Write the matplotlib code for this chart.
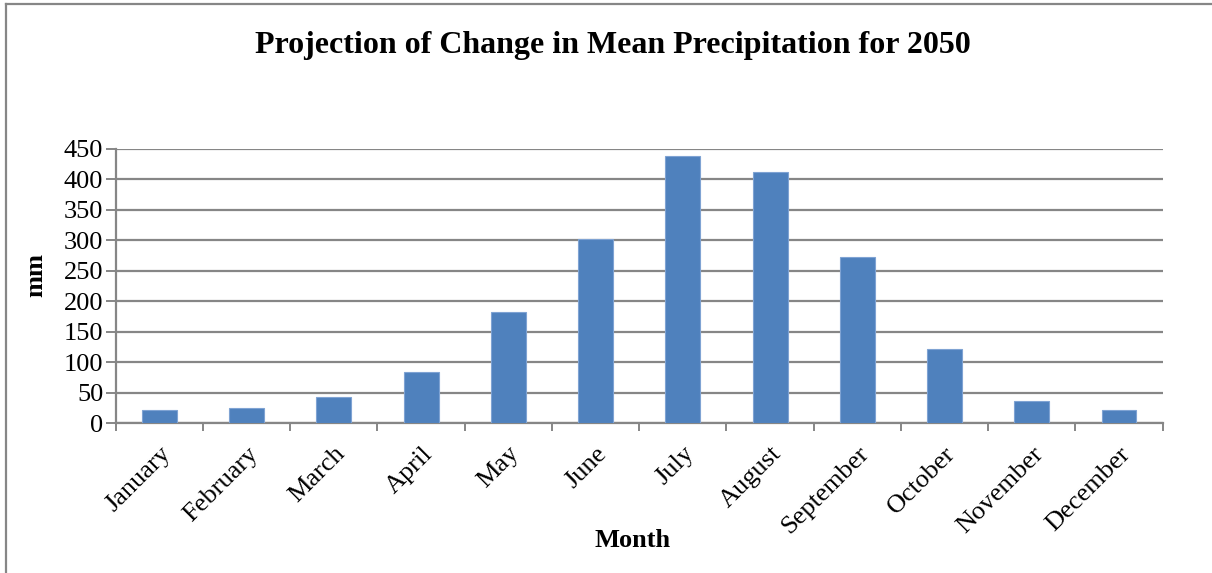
import numpy as np
import matplotlib.pyplot as plt
from matplotlib.lines import Line2D

months = ['January', 'February', 'March', 'April', 'May', 'June', 'July',
          'August', 'September', 'October', 'November', 'December']
precip = [21, 25, 43, 84, 182, 302, 438, 413, 272, 122, 36, 21]
yticks = [0, 50, 100, 150, 200, 250, 300, 350, 400, 450]

plt.rcParams['font.family'] = ['Liberation Serif', 'DejaVu Serif']
grid_col = '#868686'

fig = plt.figure(figsize=(12.12, 5.73), dpi=100)
ax = fig.add_axes([0.0955, 0.2613, 0.8638, 0.4787])

x = np.arange(len(months))
ax.bar(x, precip, width=0.4, color='#4F81BD', edgecolor='#7FA3D3',
       linewidth=0.8, zorder=3)

ax.set_xlim(-0.5, len(months) - 0.5)
ax.set_ylim(0, 450)
ax.set_yticks(yticks)
ax.set_yticklabels([str(v) for v in yticks], fontsize=19)
ax.yaxis.grid(True, color=grid_col, linewidth=1.6, zorder=0)
ax.set_axisbelow(True)

ax.set_xticks(x)
ax.set_xticklabels(months, rotation=45, ha='right', rotation_mode='anchor',
                   fontsize=19)
ax.tick_params(axis='x', which='major', length=0, pad=14)
ax.set_xticks(np.arange(-0.5, len(months)), minor=True)
ax.tick_params(axis='x', which='minor', length=6, width=1.4, color=grid_col)
ax.tick_params(axis='y', length=7, width=1.4, color=grid_col, pad=2)

for side in ['top', 'right']:
    ax.spines[side].set_visible(False)
for side in ['left', 'bottom']:
    ax.spines[side].set_color(grid_col)
    ax.spines[side].set_linewidth(1.6)

ax.set_ylabel('mm', fontsize=19, fontweight='bold', va='center')
ax.yaxis.set_label_coords(-0.076, 0.54)
ax.set_xlabel('Month', fontsize=19, fontweight='bold', va='center')
ax.xaxis.set_label_coords(0.494, -0.429)

fig.text(0.506, 0.92, 'Projection of Change in Mean Precipitation for 2050',
         ha='center', va='center', fontsize=23, fontweight='bold')

# chart frame (only left and top edges fall inside the image)
fig.add_artist(Line2D([0.005, 0.005], [0, 0.993], transform=fig.transFigure,
                      color=grid_col, linewidth=1.6))
fig.add_artist(Line2D([0.005, 1], [0.993, 0.993], transform=fig.transFigure,
                      color=grid_col, linewidth=1.6))

fig.savefig('out.png', dpi=100)
